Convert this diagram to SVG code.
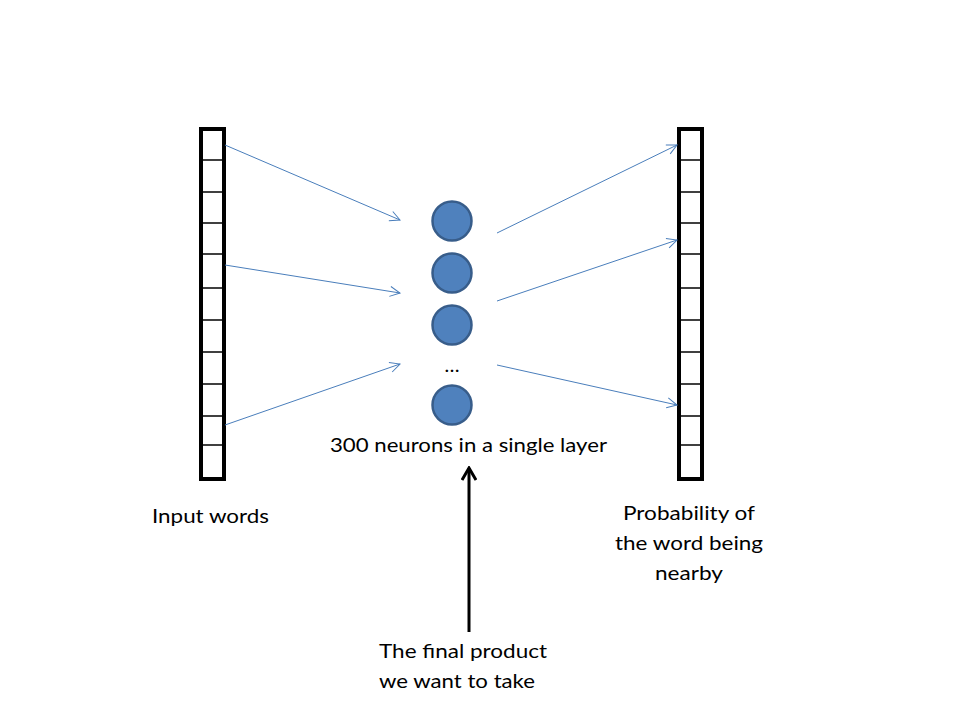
<svg xmlns="http://www.w3.org/2000/svg" width="960" height="720" viewBox="0 0 960 720">
<style>
.col{fill:#fff;stroke:#000;stroke-width:4}
.div{stroke:#000;stroke-width:1.5}
.neuron{fill:#4F81BD;stroke:#385D8A;stroke-width:2.5}
.conn{stroke:#4A7EBB;stroke-width:1;fill:none;marker-end:url(#open)}
.txt{font-family:Lato,"Open Sans","Liberation Sans",sans-serif;font-size:20px;fill:#000}
</style>
<defs>
<marker id="open" viewBox="0 0 12 12" refX="11" refY="6" markerWidth="12" markerHeight="12" markerUnits="userSpaceOnUse" orient="auto">
<path d="M1,1 L11,6 L1,11" fill="none" stroke="#4A7EBB" stroke-width="1"/>
</marker>
<marker id="blk" viewBox="0 0 16 16" refX="14" refY="8" markerWidth="16" markerHeight="16" markerUnits="userSpaceOnUse" orient="auto">
<path d="M2,1 L14,8 L2,15" fill="none" stroke="#000" stroke-width="3"/>
</marker>
</defs>
<rect width="960" height="720" fill="#fff"/>
<g id="input-vector">
<rect class="col" x="201" y="129" width="23" height="350"/>
<g class="div">
<line x1="201" y1="160" x2="224" y2="160"/><line x1="201" y1="192" x2="224" y2="192"/><line x1="201" y1="223" x2="224" y2="223"/><line x1="201" y1="254" x2="224" y2="254"/><line x1="201" y1="288" x2="224" y2="288"/><line x1="201" y1="320" x2="224" y2="320"/><line x1="201" y1="352" x2="224" y2="352"/><line x1="201" y1="384" x2="224" y2="384"/><line x1="201" y1="416" x2="224" y2="416"/><line x1="201" y1="445" x2="224" y2="445"/>
</g>
</g>
<g id="output-vector">
<rect class="col" x="679" y="129" width="23" height="350"/>
<g class="div">
<line x1="679" y1="160" x2="702" y2="160"/><line x1="679" y1="192" x2="702" y2="192"/><line x1="679" y1="223" x2="702" y2="223"/><line x1="679" y1="254" x2="702" y2="254"/><line x1="679" y1="288" x2="702" y2="288"/><line x1="679" y1="320" x2="702" y2="320"/><line x1="679" y1="352" x2="702" y2="352"/><line x1="679" y1="384" x2="702" y2="384"/><line x1="679" y1="416" x2="702" y2="416"/><line x1="679" y1="445" x2="702" y2="445"/>
</g>
</g>
<g id="neurons">
<circle class="neuron" cx="452" cy="221" r="19.5"/>
<circle class="neuron" cx="452" cy="273" r="19.5"/>
<circle class="neuron" cx="452" cy="325" r="19.5"/>
<text class="txt" x="452" y="372" text-anchor="middle">…</text>
<circle class="neuron" cx="452" cy="405" r="19.5"/>
</g>
<g id="connectors">
<line class="conn" x1="225" y1="145" x2="400" y2="220"/>
<line class="conn" x1="225" y1="265" x2="400" y2="293"/>
<line class="conn" x1="225" y1="425" x2="400" y2="364"/>
<line class="conn" x1="497" y1="233" x2="677" y2="145"/>
<line class="conn" x1="497" y1="301" x2="677" y2="240"/>
<line class="conn" x1="497" y1="365" x2="677" y2="405"/>
<line x1="469" y1="632" x2="469" y2="468" stroke="#000" stroke-width="3" marker-end="url(#blk)"/>
</g>
<g id="labels">
<text class="txt" x="330" y="452" textLength="277" lengthAdjust="spacingAndGlyphs">300 neurons in a single layer</text>
<text class="txt" x="152" y="523" textLength="117" lengthAdjust="spacingAndGlyphs">Input words</text>
<text class="txt" x="623" y="520" textLength="132" lengthAdjust="spacingAndGlyphs">Probability of</text>
<text class="txt" x="615" y="550" textLength="148" lengthAdjust="spacingAndGlyphs">the word being</text>
<text class="txt" x="655" y="580" textLength="68" lengthAdjust="spacingAndGlyphs">nearby</text>
<text class="txt" x="379" y="658" textLength="168" lengthAdjust="spacingAndGlyphs">The final product</text>
<text class="txt" x="379" y="688" textLength="156" lengthAdjust="spacingAndGlyphs">we want to take</text>
</g>
</svg>
